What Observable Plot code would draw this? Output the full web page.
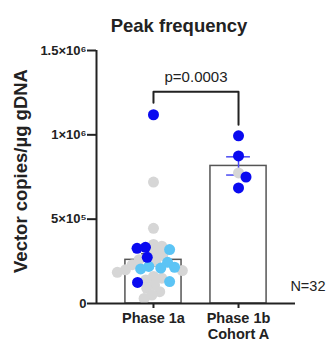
<!DOCTYPE html>
<html><head><meta charset="utf-8">
<script src="https://cdn.jsdelivr.net/npm/d3@7"></script>
<script src="https://cdn.jsdelivr.net/npm/@observablehq/plot@0.6"></script>
<style>body{margin:0;background:#fff;font-family:"Liberation Sans",Arial,sans-serif}</style>
</head><body><div id="chart"></div>
<script>
const title = "Peak frequency";
const yLabel = "Vector copies/µg gDNA";
const groups = ["Phase 1a", "Phase 1b\nCohort A"];
const yTicks = [0, 5e5, 1e6, 1.5e6];
const yTickLabels = ["0", "5×10⁵", "1×10⁶", "1.5×10⁶"];
const pValue = "p=0.0003";
const nLabel = "N=32";

// Phase 1a values (by colour class)
const phase1aDark = [1119000, 333000, 327000, 274000, 125000];
const phase1aLight = [320000, 244000, 220000, 215000, 210000, 205000, 130000];
const phase1aGray = [720000, 446000, 350000, 340000, 300000, 285000, 260000, 250000, 230000, 200000,
                     195000, 185000, 160000, 150000, 140000, 110000, 90000, 70000, 50000, 30000];
// Phase 1b Cohort A values
const phase1bDark = [994000, 875000, 750000, 685000];
const phase1bGray = [774000];

// significance bracket (values in y units)
const bracketLegs = [1190000, 1060000];
const bracketTop = 1256000;

const colors = {dark: "#0a0af0", light: "#5cc4f5", gray: "#d6d6d6"};

const W = 328, H = 351, mt = 50, mb = 48, ml = 96, mr = 33;
const xDomain = [-0.67, 1.67];
const yDomain = [0, 1.5e6];
const yPx = d3.scaleLinear(yDomain, [H - mb, mt]);
const xPx = d3.scaleLinear(xDomain, [ml, W - mr]);
const pxPerUnit = xPx(1) - xPx(0);

const points = [
  ...phase1aDark.map(v => ({g: 0, value: v, cls: "dark"})),
  ...phase1aLight.map(v => ({g: 0, value: v, cls: "light"})),
  ...phase1aGray.map(v => ({g: 0, value: v, cls: "gray"})),
  ...phase1bDark.map(v => ({g: 1, value: v, cls: "dark"})),
  ...phase1bGray.map(v => ({g: 1, value: v, cls: "gray"}))
];

// simple beeswarm layout in pixel space
const D = 8.5;
for (const g of [0, 1]) {
  const pts = points.filter(p => p.g === g).sort((a, b) => b.value - a.value);
  const placed = [];
  for (const p of pts) {
    const py = yPx(p.value);
    const cands = [0];
    for (const q of placed) {
      const dy = py - q.py;
      if (Math.abs(dy) < D) {
        const dx = Math.sqrt(D * D - dy * dy);
        cands.push(q.ox + dx, q.ox - dx);
      }
    }
    cands.sort((a, b) => Math.abs(a) - Math.abs(b));
    let ox = 0;
    for (const c of cands) {
      if (placed.every(q => (c - q.ox) ** 2 + (py - q.py) ** 2 >= D * D - 1e-6)) { ox = c; break; }
    }
    p.py = py; p.ox = ox;
    placed.push(p);
    p.x = g + ox / pxPerUnit;
  }
}

const bars = [0, 1].map(g => {
  const vals = points.filter(p => p.g === g).map(p => p.value);
  const mean = d3.mean(vals);
  const sem = d3.deviation(vals) / Math.sqrt(vals.length);
  return {g, mean, lo: mean - sem, hi: mean + sem, color: g === 0 ? "#666" : "#4a4af2"};
});

const bracket = [
  {x: 0, y: bracketLegs[0]}, {x: 0, y: bracketTop},
  {x: 1, y: bracketTop}, {x: 1, y: bracketLegs[1]}
];

const byCls = c => points.filter(p => p.cls === c);

const plot = Plot.plot({
  width: W, height: H,
  marginTop: mt, marginBottom: mb, marginLeft: ml, marginRight: mr,
  style: {fontFamily: "Liberation Sans, Arial, sans-serif", color: "#222", background: "#fff"},
  x: {domain: xDomain, axis: null},
  y: {domain: yDomain, axis: null},
  marks: [
    Plot.rect(bars, {x1: d => d.g - 0.33, x2: d => d.g + 0.33, y1: 0, y2: "mean",
      fill: "white", stroke: "#555", strokeWidth: 1.5}),
    Plot.ruleX(bars, {x: "g", y1: "lo", y2: "hi", stroke: "color", strokeWidth: 1.5}),
    Plot.ruleY(bars, {y: "hi", x1: d => d.g - 0.14, x2: d => d.g + 0.14, stroke: "color", strokeWidth: 1.5}),
    Plot.ruleY(bars, {y: "lo", x1: d => d.g - 0.14, x2: d => d.g + 0.14, stroke: "color", strokeWidth: 1.5}),
    Plot.dot(byCls("gray"), {x: "x", y: "value", r: 5.5, fill: colors.gray}),
    Plot.dot(byCls("light"), {x: "x", y: "value", r: 5.5, fill: colors.light}),
    Plot.dot(byCls("dark"), {x: "x", y: "value", r: 5.5, fill: colors.dark}),
    Plot.line(bracket, {x: "x", y: "y", stroke: "#222", strokeWidth: 2}),
    Plot.text([pValue], {x: () => 0.5, y: () => bracketTop, dy: -14, fontSize: 15, fill: "#222"}),
    Plot.ruleX([xDomain[0]], {y1: yDomain[0], y2: yDomain[1], stroke: "#222", strokeWidth: 2}),
    Plot.ruleY([0], {x1: xDomain[0], x2: xDomain[1], stroke: "#222", strokeWidth: 2}),
    Plot.axisY(yTicks, {tickSize: 9, tickPadding: 1, tickFormat: d => yTickLabels[yTicks.indexOf(d)],
      fontSize: 13, fontWeight: "bold", label: null, strokeWidth: 2, stroke: "#222"}),
    Plot.axisX([0, 1], {tickSize: 5, tickFormat: d => groups[d], fontSize: 14.5, fontWeight: "bold",
      lineHeight: 1.05, label: null, strokeWidth: 2, stroke: "#222", tickPadding: 4}),
    Plot.text([nLabel], {x: () => 1.61, y: () => 1e5, textAnchor: "start", fontSize: 14.5, fill: "#222"}),
    Plot.text([title], {frameAnchor: "top", dy: -32, dx: -17, fontSize: 18.5, fontWeight: "bold", fill: "#222"}),
    Plot.text([yLabel], {frameAnchor: "left", textAnchor: "middle", rotate: -90, dx: -75, dy: -6,
      fontSize: 18.5, fontWeight: "bold", fill: "#222"})
  ]
});
document.getElementById("chart").append(plot);
</script>
</body></html>
